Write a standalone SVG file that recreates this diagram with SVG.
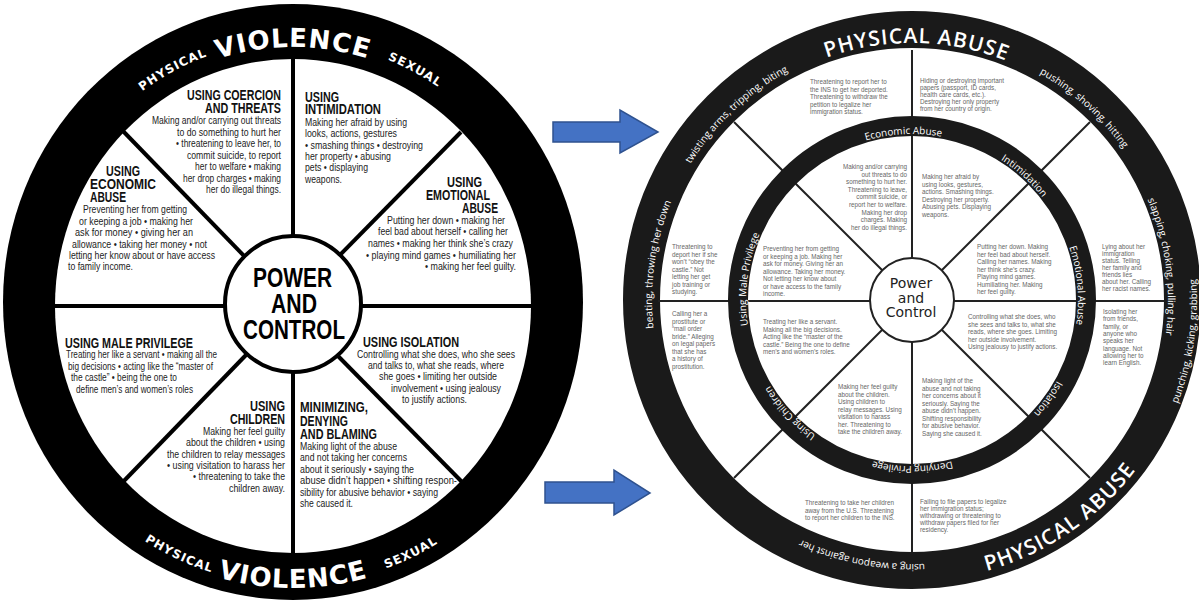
<svg xmlns="http://www.w3.org/2000/svg" width="1199" height="602" viewBox="0 0 1199 602">
<style>
.lh{font-family:"Liberation Sans",Arial,sans-serif;font-weight:bold;font-size:14px;fill:#111}
.lb{font-family:"Liberation Sans",Arial,sans-serif;font-size:10.5px;fill:#222}
.lr{font-family:"DejaVu Sans",sans-serif;font-weight:bold;fill:#fff}
.pc{font-family:"Liberation Sans",Arial,sans-serif;font-weight:bold;font-size:27px;fill:#000}
.spk{stroke:#000;stroke-width:4}
.rspk{stroke:#222;stroke-width:2}
.rs{font-family:"Liberation Sans",Arial,sans-serif;font-size:6.3px;fill:#666}
.ro{font-family:"Open Sans","DejaVu Sans",sans-serif;font-size:10px;fill:#fff}
.rm{font-family:"Open Sans","DejaVu Sans",sans-serif;font-size:10px;fill:#fff}
.rt{font-family:"Open Sans","DejaVu Sans",sans-serif;font-weight:600;font-size:21px;fill:#fff;letter-spacing:1px}
.rc{font-family:"DejaVu Sans",sans-serif;font-size:14px;fill:#222}
.arr{fill:#4472C4;stroke:#2F528F;stroke-width:1.5}
</style>
<defs>
<path id="lt1" d="M43,303 A250,256 0 0 1 543,303"/>
<path id="lt2" d="M37,303 A256,262 0 0 1 549,303"/>
<path id="lb1" d="M15,304 A278,284 0 0 0 571,304"/>
<path id="lb2" d="M17,304 A276,281 0 0 0 569,304"/>
<path id="c257" d="M912,43 A257,257 0 1 1 912,557 A257,257 0 1 1 912,43 A257,257 0 1 1 912,557 A257,257 0 1 1 912,43"/>
<path id="c260" d="M912,40 A260,260 0 1 1 912,560 A260,260 0 1 1 912,40 A260,260 0 1 1 912,560 A260,260 0 1 1 912,40"/>
<path id="c256" d="M912,44 A256,256 0 1 1 912,556 A256,256 0 1 1 912,44 A256,256 0 1 1 912,556 A256,256 0 1 1 912,44"/>
<path id="c264" d="M912,36 A264,264 0 1 1 912,564 A264,264 0 1 1 912,36 A264,264 0 1 1 912,564 A264,264 0 1 1 912,36"/>
<path id="c166" d="M912,134 A166,166 0 1 1 912,466 A166,166 0 1 1 912,134 A166,166 0 1 1 912,466 A166,166 0 1 1 912,134"/>
<path id="k281" d="M912,19 A281,281 0 1 0 912,581 A281,281 0 1 0 912,19 A281,281 0 1 0 912,581 A281,281 0 1 0 912,19"/>
<path id="k285" d="M912,15 A285,285 0 1 0 912,585 A285,285 0 1 0 912,15 A285,285 0 1 0 912,585 A285,285 0 1 0 912,15"/>
</defs>
<rect width="1199" height="602" fill="#fff"/>

<!-- LEFT WHEEL -->
<g id="left-wheel">
<ellipse cx="293" cy="302" rx="290" ry="298" fill="#000"/>
<ellipse cx="293" cy="306" rx="238" ry="247" fill="#fff"/>
<g id="left-spokes">
<line class="spk" x1="293" y1="56" x2="293" y2="240"/>
<line class="spk" x1="293" y1="368" x2="293" y2="556"/>
<line class="spk" x1="52" y1="306" x2="230" y2="306"/>
<line class="spk" x1="356" y1="306" x2="534" y2="306"/>
<line class="spk" x1="122" y1="130" x2="248" y2="260"/>
<line class="spk" x1="461" y1="132" x2="337" y2="258"/>
<line class="spk" x1="120" y1="485" x2="246" y2="355"/>
<line class="spk" x1="337" y1="355" x2="463" y2="483"/>
</g>
<g id="ring-labels-left">
<text class="lr" font-size="26" letter-spacing="1"><textPath href="#lt1" startOffset="50%" text-anchor="middle">VIOLENCE</textPath></text>
<text class="lr" font-size="12" letter-spacing="1"><textPath href="#lt2" startOffset="34.7%" text-anchor="middle">PHYSICAL</textPath></text>
<text class="lr" font-size="12" letter-spacing="1"><textPath href="#lt2" startOffset="65.5%" text-anchor="middle">SEXUAL</textPath></text>
<text class="lr" font-size="26" letter-spacing="1"><textPath href="#lb1" startOffset="50%" text-anchor="middle">VIOLENCE</textPath></text>
<text class="lr" font-size="12" letter-spacing="1"><textPath href="#lb2" startOffset="36.3%" text-anchor="middle">PHYSICAL</textPath></text>
<text class="lr" font-size="12" letter-spacing="1"><textPath href="#lb2" startOffset="64.2%" text-anchor="middle">SEXUAL</textPath></text>
</g>
<g id="power-and-control">
<circle cx="293" cy="304" r="68" fill="#fff" stroke="#000" stroke-width="4"/>
<text class="pc" x="253" y="287" textLength="79" lengthAdjust="spacingAndGlyphs">POWER</text>
<text class="pc" x="271" y="313" textLength="46" lengthAdjust="spacingAndGlyphs">AND</text>
<text class="pc" x="243" y="339" textLength="102" lengthAdjust="spacingAndGlyphs">CONTROL</text>
</g>
<g id="seg-coercion">
<text class="lh" x="187" y="100" textLength="94" lengthAdjust="spacingAndGlyphs">USING COERCION</text>
<text class="lh" x="205" y="113" textLength="76" lengthAdjust="spacingAndGlyphs">AND THREATS</text>
<text class="lb" x="152" y="124" textLength="129" lengthAdjust="spacingAndGlyphs">Making and/or carrying out threats</text>
<text class="lb" x="177" y="135.5" textLength="104" lengthAdjust="spacingAndGlyphs">to do something to hurt her</text>
<text class="lb" x="176" y="147" textLength="105" lengthAdjust="spacingAndGlyphs">• threatening to leave her, to</text>
<text class="lb" x="187" y="158.5" textLength="94" lengthAdjust="spacingAndGlyphs">commit suicide, to report</text>
<text class="lb" x="195" y="170" textLength="86" lengthAdjust="spacingAndGlyphs">her to welfare • making</text>
<text class="lb" x="183" y="181.5" textLength="98" lengthAdjust="spacingAndGlyphs">her drop charges • making</text>
<text class="lb" x="206" y="193" textLength="75" lengthAdjust="spacingAndGlyphs">her do illegal things.</text>
</g>
<g id="seg-intimidation">
<text class="lh" x="305" y="102" textLength="34" lengthAdjust="spacingAndGlyphs">USING</text>
<text class="lh" x="305" y="114" textLength="76" lengthAdjust="spacingAndGlyphs">INTIMIDATION</text>
<text class="lb" x="305" y="125.5" textLength="102" lengthAdjust="spacingAndGlyphs">Making her afraid by using</text>
<text class="lb" x="305" y="137" textLength="92" lengthAdjust="spacingAndGlyphs">looks, actions, gestures</text>
<text class="lb" x="305" y="148.5" textLength="118" lengthAdjust="spacingAndGlyphs">• smashing things • destroying</text>
<text class="lb" x="305" y="159.5" textLength="86" lengthAdjust="spacingAndGlyphs">her property • abusing</text>
<text class="lb" x="305" y="171" textLength="63" lengthAdjust="spacingAndGlyphs">pets • displaying</text>
<text class="lb" x="305" y="183" textLength="37" lengthAdjust="spacingAndGlyphs">weapons.</text>
</g>
<g id="seg-emotional">
<text class="lh" x="447" y="187" textLength="35" lengthAdjust="spacingAndGlyphs">USING</text>
<text class="lh" x="426" y="200" textLength="64" lengthAdjust="spacingAndGlyphs">EMOTIONAL</text>
<text class="lh" x="462" y="213" textLength="36" lengthAdjust="spacingAndGlyphs">ABUSE</text>
<text class="lb" x="387" y="223.5" textLength="118" lengthAdjust="spacingAndGlyphs">Putting her down • making her</text>
<text class="lb" x="378" y="235" textLength="130" lengthAdjust="spacingAndGlyphs">feel bad about herself • calling her</text>
<text class="lb" x="368" y="247" textLength="145" lengthAdjust="spacingAndGlyphs">names • making her think she’s crazy</text>
<text class="lb" x="366" y="258.5" textLength="150" lengthAdjust="spacingAndGlyphs">• playing mind games • humiliating her</text>
<text class="lb" x="425" y="269.5" textLength="91" lengthAdjust="spacingAndGlyphs">• making her feel guilty.</text>
</g>
<g id="seg-economic">
<text class="lh" x="106" y="176" textLength="34" lengthAdjust="spacingAndGlyphs">USING</text>
<text class="lh" x="90" y="189" textLength="66" lengthAdjust="spacingAndGlyphs">ECONOMIC</text>
<text class="lh" x="90" y="202" textLength="36" lengthAdjust="spacingAndGlyphs">ABUSE</text>
<text class="lb" x="83" y="213" textLength="104" lengthAdjust="spacingAndGlyphs">Preventing her from getting</text>
<text class="lb" x="79" y="225" textLength="114" lengthAdjust="spacingAndGlyphs">or keeping a job • making her</text>
<text class="lb" x="75" y="236" textLength="118" lengthAdjust="spacingAndGlyphs">ask for money • giving her an</text>
<text class="lb" x="72" y="248" textLength="135" lengthAdjust="spacingAndGlyphs">allowance • taking her money • not</text>
<text class="lb" x="69" y="259" textLength="146" lengthAdjust="spacingAndGlyphs">letting her know about or have access</text>
<text class="lb" x="68" y="270" textLength="65" lengthAdjust="spacingAndGlyphs">to family income.</text>
</g>
<g id="seg-male-privilege">
<text class="lh" x="65" y="347.5" textLength="128" lengthAdjust="spacingAndGlyphs">USING MALE PRIVILEGE</text>
<text class="lb" x="66" y="358" textLength="151" lengthAdjust="spacingAndGlyphs">Treating her like a servant • making all the</text>
<text class="lb" x="68" y="369.5" textLength="145" lengthAdjust="spacingAndGlyphs">big decisions • acting like the “master of</text>
<text class="lb" x="71" y="381" textLength="106" lengthAdjust="spacingAndGlyphs">the castle”  • being the one to</text>
<text class="lb" x="76" y="392.5" textLength="117" lengthAdjust="spacingAndGlyphs">define men’s and women’s roles</text>
</g>
<g id="seg-children">
<text class="lh" x="250" y="410.5" textLength="35" lengthAdjust="spacingAndGlyphs">USING</text>
<text class="lh" x="230" y="424" textLength="55" lengthAdjust="spacingAndGlyphs">CHILDREN</text>
<text class="lb" x="203" y="434.5" textLength="82" lengthAdjust="spacingAndGlyphs">Making her feel guilty</text>
<text class="lb" x="186" y="446" textLength="99" lengthAdjust="spacingAndGlyphs">about the children • using</text>
<text class="lb" x="167" y="457.5" textLength="118" lengthAdjust="spacingAndGlyphs">the children to relay messages</text>
<text class="lb" x="167" y="468.5" textLength="118" lengthAdjust="spacingAndGlyphs">• using visitation to harass her</text>
<text class="lb" x="193" y="480" textLength="92" lengthAdjust="spacingAndGlyphs">• threatening to take the</text>
<text class="lb" x="229" y="491.5" textLength="56" lengthAdjust="spacingAndGlyphs">children away.</text>
</g>
<g id="seg-isolation">
<text class="lh" x="363" y="347" textLength="96" lengthAdjust="spacingAndGlyphs">USING ISOLATION</text>
<text class="lb" x="357" y="357.5" textLength="158" lengthAdjust="spacingAndGlyphs">Controlling what she does, who she sees</text>
<text class="lb" x="368" y="368.5" textLength="136" lengthAdjust="spacingAndGlyphs">and talks to, what she reads, where</text>
<text class="lb" x="379" y="380" textLength="118" lengthAdjust="spacingAndGlyphs">she goes • limiting her outside</text>
<text class="lb" x="391" y="391.5" textLength="110" lengthAdjust="spacingAndGlyphs">involvement • using jealousy</text>
<text class="lb" x="402" y="402.5" textLength="65" lengthAdjust="spacingAndGlyphs">to justify actions.</text>
</g>
<g id="seg-minimizing">
<text class="lh" x="300" y="412" textLength="68" lengthAdjust="spacingAndGlyphs">MINIMIZING,</text>
<text class="lh" x="300" y="425.5" textLength="48" lengthAdjust="spacingAndGlyphs">DENYING</text>
<text class="lh" x="300" y="438.5" textLength="77" lengthAdjust="spacingAndGlyphs">AND BLAMING</text>
<text class="lb" x="300" y="449.5" textLength="97" lengthAdjust="spacingAndGlyphs">Making light of the abuse</text>
<text class="lb" x="300" y="461" textLength="107" lengthAdjust="spacingAndGlyphs">and not taking her concerns</text>
<text class="lb" x="300" y="472.5" textLength="114" lengthAdjust="spacingAndGlyphs">about it seriously • saying the</text>
<text class="lb" x="300" y="484" textLength="157" lengthAdjust="spacingAndGlyphs">abuse didn’t happen • shifting respon-</text>
<text class="lb" x="300" y="495.5" textLength="138" lengthAdjust="spacingAndGlyphs">sibility for abusive behavior • saying</text>
<text class="lb" x="300" y="506.5" textLength="53" lengthAdjust="spacingAndGlyphs">she caused it.</text>
</g>
</g>

<!-- CONNECTORS -->
<g id="connectors">
<path class="arr" d="M553,122 H620 V110 L658,132 L620,153 V142 H553 Z"/>
<path class="arr" d="M545,482 H614 V470 L650,493 L614,515 V503 H545 Z"/>
</g>

<!-- RIGHT WHEEL -->
<g id="right-wheel">
<circle cx="912" cy="300" r="270.5" fill="#fff" stroke="#1a1a1a" stroke-width="37"/>
<g id="right-spokes">
<line class="rspk" x1="912" y1="50" x2="912" y2="552"/>
<line class="rspk" x1="658" y1="301" x2="1164" y2="301"/>
<line class="rspk" x1="734" y1="122" x2="1090" y2="478"/>
<line class="rspk" x1="1090" y1="122" x2="734" y2="478"/>
</g>
<circle cx="912" cy="300" r="174" fill="none" stroke="#1a1a1a" stroke-width="20"/>
<g id="right-outer-labels">
<text class="rt"><textPath href="#c257" startOffset="1619" text-anchor="middle">PHYSICAL ABUSE</textPath></text>
<text class="rt"><textPath href="#k281" startOffset="1050" text-anchor="middle">PHYSICAL ABUSE</textPath></text>
<text class="ro"><textPath href="#c260" startOffset="1436" text-anchor="middle">twisting arms, tripping, biting</textPath></text>
<text class="ro"><textPath href="#c260" startOffset="190" text-anchor="middle">pushing, shoving, hitting</textPath></text>
<text class="ro"><textPath href="#c260" startOffset="1261" text-anchor="middle">beating, throwing her down</textPath></text>
<text class="ro"><textPath href="#c256" startOffset="368" text-anchor="middle">slapping, choking, pulling hair</textPath></text>
<text class="ro"><textPath href="#k285" startOffset="1300" text-anchor="middle">punching, kicking, grabbing</textPath></text>
<text class="ro"><textPath href="#c264" startOffset="880" text-anchor="middle">using a weapon against her</textPath></text>
</g>
<g id="right-middle-labels">
<text class="rm"><textPath href="#c166" startOffset="1034" text-anchor="middle">Economic Abuse</textPath></text>
<text class="rm"><textPath href="#c166" startOffset="122" text-anchor="middle">Intimidation</textPath></text>
<text class="rm"><textPath href="#c166" startOffset="246" text-anchor="middle">Emotional Abuse</textPath></text>
<text class="rm"><textPath href="#c166" startOffset="365" text-anchor="middle">Isolation</textPath></text>
<text class="rm"><textPath href="#c166" startOffset="521" text-anchor="middle">Denying Privilege</textPath></text>
<text class="rm"><textPath href="#c166" startOffset="658" text-anchor="middle">Using Children</textPath></text>
<text class="rm"><textPath href="#c166" startOffset="803" text-anchor="middle">Using Male Privilege</textPath></text>
</g>
<g id="right-center">
<circle cx="912" cy="300" r="42" fill="#fff" stroke="#222" stroke-width="2"/>
<text class="rc" x="911" y="288" text-anchor="middle">Power</text>
<text class="rc" x="911" y="303" text-anchor="middle">and</text>
<text class="rc" x="911" y="317" text-anchor="middle">Control</text>
</g>
<g id="r-out-1"><text class="rs" x="810" y="84"><tspan x="810">Threatening to report her to</tspan><tspan x="810" dy="7.5">the INS to get her deported.</tspan><tspan x="810" dy="7.5">Threatening to withdraw the</tspan><tspan x="810" dy="7.5">petition to legalize her</tspan><tspan x="810" dy="7.5">immigration status.</tspan></text></g>
<g id="r-out-2"><text class="rs" x="920" y="83"><tspan x="920">Hiding or destroying important</tspan><tspan x="920" dy="7">papers (passport, ID cards,</tspan><tspan x="920" dy="7">health care cards, etc.).</tspan><tspan x="920" dy="7">Destroying her only property</tspan><tspan x="920" dy="7">from her country of origin.</tspan></text></g>
<g id="r-out-3"><text class="rs" x="1102" y="249"><tspan x="1102">Lying about her</tspan><tspan x="1102" dy="7">immigration</tspan><tspan x="1102" dy="7">status. Telling</tspan><tspan x="1102" dy="7">her family and</tspan><tspan x="1102" dy="7">friends lies</tspan><tspan x="1102" dy="7">about her. Calling</tspan><tspan x="1102" dy="7">her racist names.</tspan></text></g>
<g id="r-out-4"><text class="rs" x="1103" y="314"><tspan x="1103">Isolating her</tspan><tspan x="1103" dy="7.3">from friends,</tspan><tspan x="1103" dy="7.3">family, or</tspan><tspan x="1103" dy="7.3">anyone who</tspan><tspan x="1103" dy="7.3">speaks her</tspan><tspan x="1103" dy="7.3">language. Not</tspan><tspan x="1103" dy="7.3">allowing her to</tspan><tspan x="1103" dy="7.3">learn English.</tspan></text></g>
<g id="r-out-5"><text class="rs" x="920" y="504"><tspan x="920">Failing to file papers to legalize</tspan><tspan x="920" dy="7">her immigration status;</tspan><tspan x="920" dy="7">withdrawing or threatening to</tspan><tspan x="920" dy="7">withdraw papers filed for her</tspan><tspan x="920" dy="7">residency.</tspan></text></g>
<g id="r-out-6"><text class="rs" x="805" y="505"><tspan x="805">Threatening to take her children</tspan><tspan x="805" dy="7.5">away from the U.S. Threatening</tspan><tspan x="805" dy="7.5">to report her children to the INS.</tspan></text></g>
<g id="r-out-7"><text class="rs" x="672" y="316"><tspan x="672">Calling her a</tspan><tspan x="672" dy="7.5">prostitute or</tspan><tspan x="672" dy="7.5">“mail order</tspan><tspan x="672" dy="7.5">bride.” Alleging</tspan><tspan x="672" dy="7.5">on legal papers</tspan><tspan x="672" dy="7.5">that she has</tspan><tspan x="672" dy="7.5">a history of</tspan><tspan x="672" dy="7.5">prostitution.</tspan></text></g>
<g id="r-out-8"><text class="rs" x="672" y="249"><tspan x="672">Threatening to</tspan><tspan x="672" dy="7.5">deport her if she</tspan><tspan x="672" dy="7.5">won’t “obey the</tspan><tspan x="672" dy="7.5">castle.” Not</tspan><tspan x="672" dy="7.5">letting her get</tspan><tspan x="672" dy="7.5">job training or</tspan><tspan x="672" dy="7.5">studying.</tspan></text></g>
<g id="r-in-a"><text class="rs" x="907" y="169" text-anchor="end"><tspan x="907">Making and/or carrying</tspan><tspan x="907" dy="7.6">out threats to do</tspan><tspan x="907" dy="7.6">something to hurt her.</tspan><tspan x="907" dy="7.6">Threatening to leave,</tspan><tspan x="907" dy="7.6">commit suicide, or</tspan><tspan x="907" dy="7.6">report her to welfare.</tspan><tspan x="907" dy="7.6">Making her drop</tspan><tspan x="907" dy="7.6">charges. Making</tspan><tspan x="907" dy="7.6">her do illegal things.</tspan></text></g>
<g id="r-in-b"><text class="rs" x="922" y="179"><tspan x="922">Making her afraid by</tspan><tspan x="922" dy="7.6">using looks, gestures,</tspan><tspan x="922" dy="7.6">actions. Smashing things.</tspan><tspan x="922" dy="7.6">Destroying her property.</tspan><tspan x="922" dy="7.6">Abusing pets. Displaying</tspan><tspan x="922" dy="7.6">weapons.</tspan></text></g>
<g id="r-in-c"><text class="rs" x="977" y="249"><tspan x="977">Putting her down. Making</tspan><tspan x="977" dy="7.5">her feel bad about herself.</tspan><tspan x="977" dy="7.5">Calling her names. Making</tspan><tspan x="977" dy="7.5">her think she’s crazy.</tspan><tspan x="977" dy="7.5">Playing mind games.</tspan><tspan x="977" dy="7.5">Humiliating her. Making</tspan><tspan x="977" dy="7.5">her feel guilty.</tspan></text></g>
<g id="r-in-d"><text class="rs" x="968" y="319"><tspan x="968">Controlling what she does, who</tspan><tspan x="968" dy="7.5">she sees and talks to, what she</tspan><tspan x="968" dy="7.5">reads, where she goes. Limiting</tspan><tspan x="968" dy="7.5">her outside involvement.</tspan><tspan x="968" dy="7.5">Using jealousy to justify actions.</tspan></text></g>
<g id="r-in-e"><text class="rs" x="922" y="383"><tspan x="922">Making light of the</tspan><tspan x="922" dy="7.5">abuse and not taking</tspan><tspan x="922" dy="7.5">her concerns about it</tspan><tspan x="922" dy="7.5">seriously. Saying the</tspan><tspan x="922" dy="7.5">abuse didn’t happen.</tspan><tspan x="922" dy="7.5">Shifting responsibility</tspan><tspan x="922" dy="7.5">for abusive behavior.</tspan><tspan x="922" dy="7.5">Saying she caused it.</tspan></text></g>
<g id="r-in-f"><text class="rs" x="838" y="389"><tspan x="838">Making her feel guilty</tspan><tspan x="838" dy="7.5">about the children.</tspan><tspan x="838" dy="7.5">Using children to</tspan><tspan x="838" dy="7.5">relay messages. Using</tspan><tspan x="838" dy="7.5">visitation to harass</tspan><tspan x="838" dy="7.5">her. Threatening to</tspan><tspan x="838" dy="7.5">take the children away.</tspan></text></g>
<g id="r-in-g"><text class="rs" x="763" y="324"><tspan x="763">Treating her like a servant.</tspan><tspan x="763" dy="7.5">Making all the big decisions.</tspan><tspan x="763" dy="7.5">Acting like the “master of the</tspan><tspan x="763" dy="7.5">castle.” Being the one to define</tspan><tspan x="763" dy="7.5">men’s and women’s roles.</tspan></text></g>
<g id="r-in-h"><text class="rs" x="763" y="251"><tspan x="763">Preventing her from getting</tspan><tspan x="763" dy="7.5">or keeping a job. Making her</tspan><tspan x="763" dy="7.5">ask for money. Giving her an</tspan><tspan x="763" dy="7.5">allowance. Taking her money.</tspan><tspan x="763" dy="7.5">Not letting her know about</tspan><tspan x="763" dy="7.5">or have access to the family</tspan><tspan x="763" dy="7.5">income.</tspan></text></g>
</g>
</svg>
